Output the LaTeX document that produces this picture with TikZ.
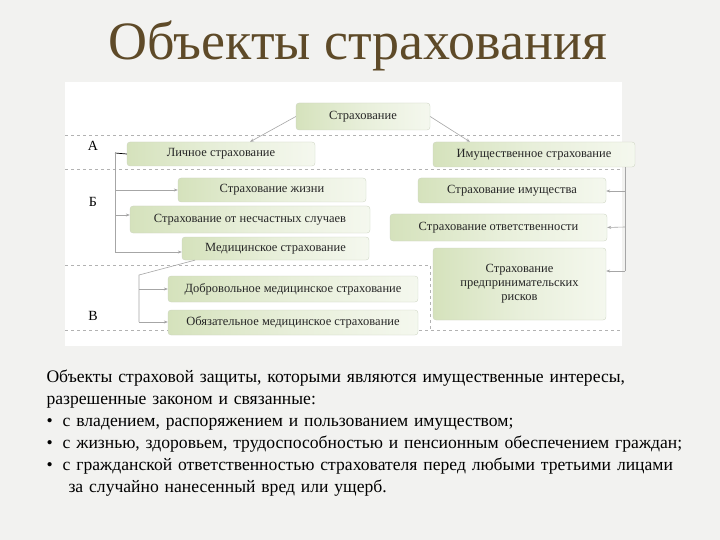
\documentclass[tikz,border=0pt]{standalone}
\usepackage{fontspec}
\setmainfont{Liberation Serif}
\usetikzlibrary{arrows.meta}
\definecolor{bg}{HTML}{F2F2F0}
\definecolor{boxg}{HTML}{D5E2BC}
\definecolor{titlec}{HTML}{5E4A28}
\begin{document}
\begin{tikzpicture}[x=1pt,y=-1pt,
  bx/.style={rounded corners=3pt,left color=boxg,right color=boxg!25!white,middle color=boxg!55!white,draw=boxg!80!black!60,line width=0.3pt,font=\fontsize{12.5}{14}\selectfont,text=black!85,inner sep=0pt,align=center},
  conn/.style={draw=black!35,line width=0.6pt},
  arr/.style={conn,-{Stealth[length=4pt,width=3pt]}},
  dsh/.style={draw=black!30,dashed,line width=0.5pt}]
\useasboundingbox (0,0) rectangle (720,540);
\fill[bg] (0,0) rectangle (720,540);
\fill[white] (65,82) rectangle (622,346);
\node[text=titlec,font=\fontsize{54}{58}\selectfont] (t) at (358,46) {Объекты страхования};
\draw[dsh] (65,135) -- (620,135);
\draw[dsh] (65,169) -- (620,169);
\draw[dsh] (65,265) -- (430,265) -- (430,330);
\draw[dsh] (65,330) -- (620,330);
\node[font=\fontsize{14}{15}\selectfont] (la) at (93,146) {А};
\node[font=\fontsize{14}{15}\selectfont] (lb) at (93,202) {Б};
\node[font=\fontsize{14}{15}\selectfont] (lv) at (93,316) {В};
\node[bx,minimum width=134,minimum height=27] (s) at (363,116.5) {Страхование};
\node[bx,minimum width=188,minimum height=24] (l) at (221,154) {Личное страхование};
\node[bx,minimum width=202,minimum height=25] (i) at (534,154.5) {Имущественное страхование};
\node[bx,minimum width=188,minimum height=24] (zh) at (272,190) {Страхование жизни};
\node[bx,minimum width=240,minimum height=27] (ns) at (250,219.5) {Страхование от несчастных случаев};
\node[bx,minimum width=187,minimum height=23] (med) at (275.5,248.5) {Медицинское страхование};
\node[bx,minimum width=188,minimum height=25] (im) at (512,190.5) {Страхование имущества};
\node[bx,minimum width=217,minimum height=27] (ot) at (498.5,227.5) {Страхование ответственности};
\node[bx,minimum width=173,minimum height=72] (pr) at (519.5,284) {Страхование\\предпринимательских\\рисков};
\node[bx,minimum width=250,minimum height=26] (dob) at (293,289) {Добровольное медицинское страхование};
\node[bx,minimum width=250,minimum height=25] (obz) at (293,322.5) {Обязательное медицинское страхование};
\draw[arr] (s.west) -- (l.north -| 250,0);
\draw[arr] (s.east) -- (i.north -| 470,0);
\draw[black,line width=0.7pt] (115,153) -- (l.west);
\draw[conn] (115,153) -- (115,252);
\draw[arr] (115,190) -- (zh.west);
\draw[arr] (115,215) -- (ns.west |- 0,215);
\draw[arr] (115,252) -- (med.west |- 0,252);
\draw[conn] (med.south -| 195,0) -- (139,275) -- (139,322);
\draw[arr] (139,289) -- (dob.west);
\draw[arr] (139,322) -- (obz.west |- 0,322);
\draw[conn] (i.south -| 625,0) -- (625,271);
\draw[arr] (625,191) -- (im.east |- 0,191);
\draw[arr] (625,227) -- (ot.east);
\draw[arr] (625,271) -- (pr.east |- 0,271);
\node[anchor=north west,align=left,font=\fontsize{17.6}{22}\selectfont,text width=700] (txt) at (43,366) {Объекты страховой защиты, которыми являются имущественные интересы,\\разрешенные законом и связанные:\\
\textbullet\hspace{10pt}с владением, распоряжением и пользованием имуществом;\\
\textbullet\hspace{10pt}с жизнью, здоровьем, трудоспособностью и пенсионным обеспечением граждан;\\
\textbullet\hspace{10pt}с гражданской ответственностью страхователя перед любыми третьими лицами\\
\hspace*{22pt}за случайно нанесенный вред или ущерб.};
\end{tikzpicture}
\end{document}
